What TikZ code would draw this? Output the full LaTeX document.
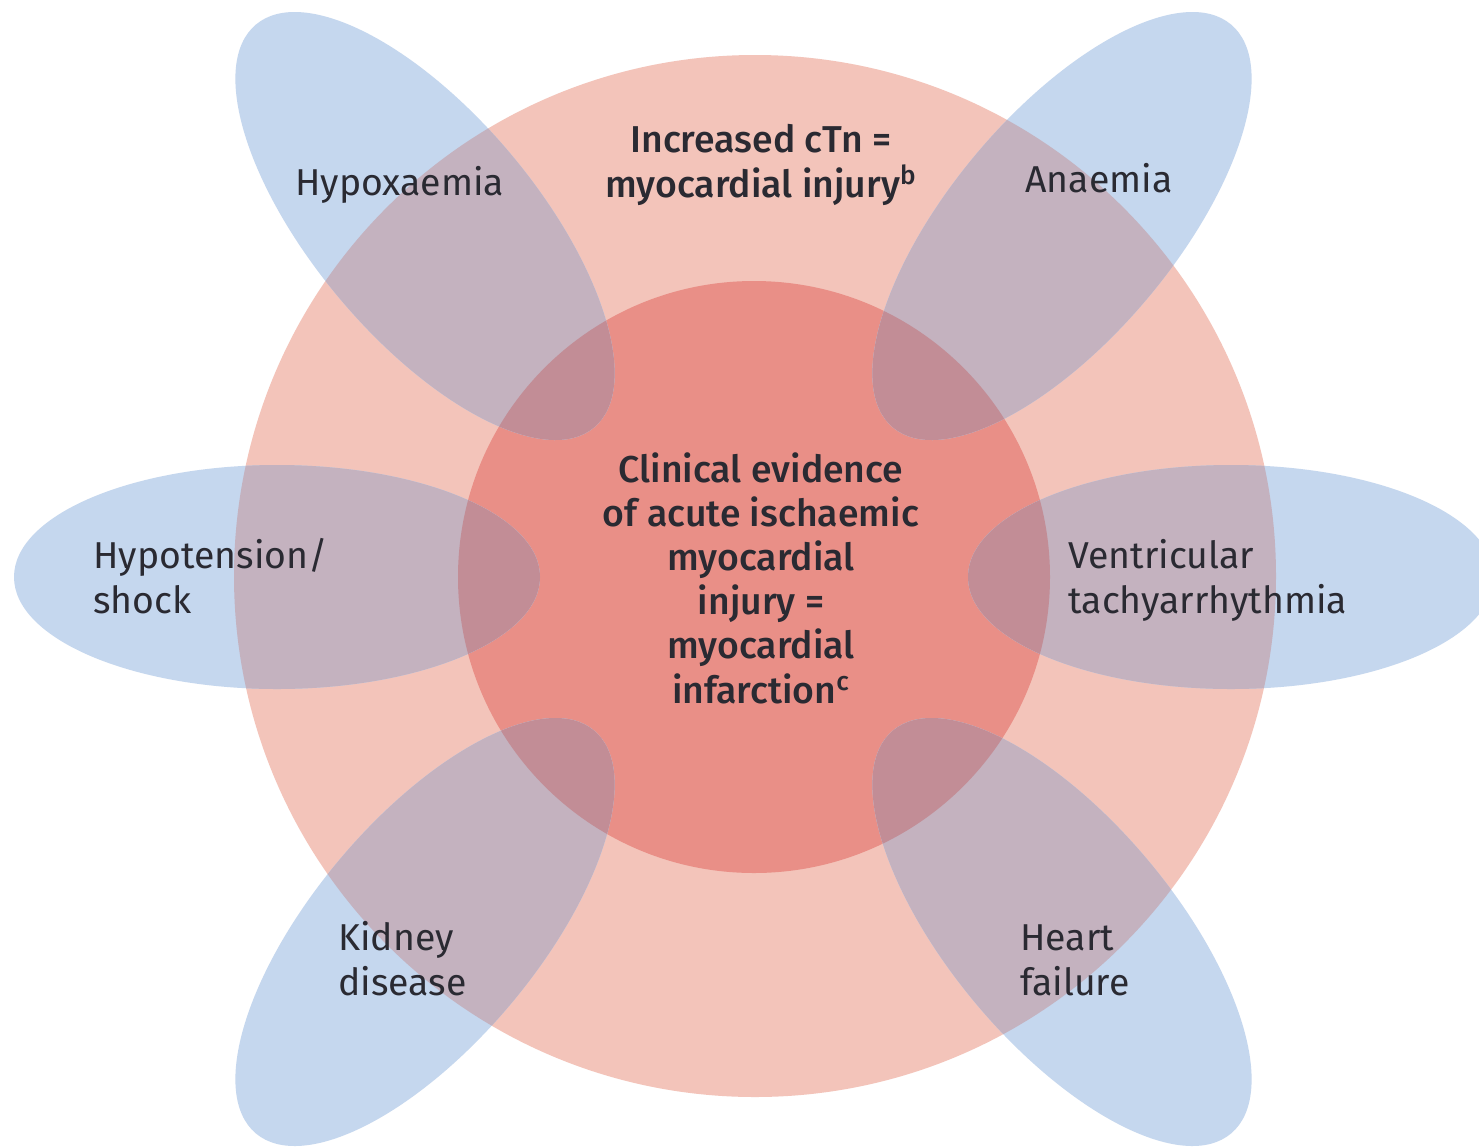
\documentclass[tikz,border=0pt]{standalone}
\usepackage{fontspec}
\setmainfont{Fira Sans}[BoldFont={Fira Sans Medium}]
\definecolor{outerpink}{HTML}{F3C4BA}
\definecolor{innerred}{HTML}{E98F87}
\definecolor{ellblue}{HTML}{C5D7EE}
\definecolor{mauve}{HTML}{C4B2BF}
\definecolor{darkmauve}{HTML}{C28D96}
\definecolor{txt}{HTML}{2A2A32}
\newcommand{\mylines}[2]{\begin{tabular}[t]{@{}#1@{}}#2\end{tabular}}
\begin{document}
\begin{tikzpicture}[x=0.5pt,y=-0.5pt,
  lab/.style={inner sep=0pt, text=txt, font=\fontsize{18.7pt}{22.5pt}\selectfont},
  clab/.style={inner sep=0pt, text=txt, font=\fontsize{18.7pt}{22.1pt}\selectfont\bfseries},
  tlab/.style={inner sep=0pt, text=txt, font=\fontsize{18.7pt}{21.5pt}\selectfont\bfseries},
  petal/.style={x radius=131.5pt, y radius=56pt}]
\useasboundingbox (0,0) rectangle (1479,1147);
\fill[white] (0,0) rectangle (1479,1147);
\fill[outerpink] (755,576) circle [radius=260.5pt];
\fill[innerred] (754,577) circle [radius=148pt];
\foreach \cx/\cy/\ang in {277/577/0, 1231/577/0, 425/226/-50, 1062/226/50, 425/932/50, 1062/932/-50} {
  \fill[ellblue, shift={(\cx,\cy)}, rotate=\ang] (0,0) ellipse [petal];
  \begin{scope}
    \clip[shift={(\cx,\cy)}, rotate=\ang] (0,0) ellipse [petal];
    \fill[mauve] (755,576) circle [radius=260.5pt];
    \fill[darkmauve] (754,577) circle [radius=148pt];
  \end{scope}
}
\node[lab, anchor=base west] (hypox) at (295,195) {Hypoxaemia};
\node[tlab, anchor=base] (ctn) at (761,152) {\mylines{c}{Increased cTn =\\myocardial injury\textsuperscript{b}}};
\node[lab, anchor=base west] (anaem) at (1025,192) {Anaemia};
\node[lab, anchor=base west] (hypot) at (93,568) {\mylines{l}{Hypotension/\\shock}};
\node[lab, anchor=base west] (vt) at (1068,568) {\mylines{l}{Ventricular\\tachyarrhythmia}};
\node[lab, anchor=base west] (kid) at (338,950) {\mylines{l}{Kidney\\disease}};
\node[lab, anchor=base west] (hf) at (1020,950) {\mylines{l}{Heart\\failure}};
\node[clab, anchor=base] (mi) at (761,482) {\mylines{c}{Clinical evidence\\of acute ischaemic\\myocardial\\injury =\\myocardial\\infarction\textsuperscript{c}}};
\end{tikzpicture}
\end{document}
